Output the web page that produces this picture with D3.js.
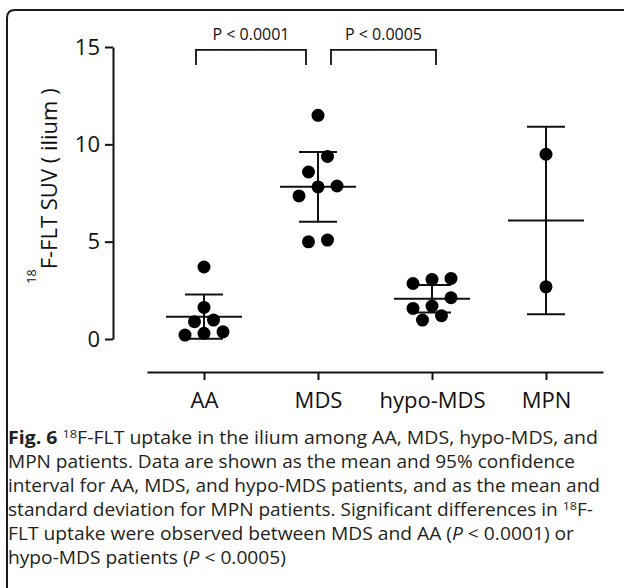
<!DOCTYPE html>
<html>
<head>
<meta charset="utf-8">
<script src="https://cdn.jsdelivr.net/npm/d3@7"></script>
<style>
body { margin: 0; background: #fff; }
svg { display: block; font-family: "Open Sans", sans-serif; }
</style>
</head>
<body>
<svg id="main-svg" width="624" height="588"></svg>
<script>
(function() {

    // groups on the x axis
    var categories = ["AA", "MDS", "hypo-MDS", "MPN"];

    // SUV values
    var aaValues = [3.7, 1.62, 0.97, 0.89, 0.37, 0.29, 0.2];
    var mdsValues = [11.49, 9.38, 8.58, 7.86, 7.81, 7.35, 5.08, 4.99];
    var hypoValues = [3.11, 3.06, 2.85, 2.12, 1.69, 1.57, 1.2, 0.97];
    var mpnValues = [9.49, 2.68];

    // error bar: 95% CI or SD
    var barTypes = ["ci95", "ci95", "ci95", "sd"];

    var yTicks = [0, 5, 10, 15];

    // significance brackets
    var pairs = [["AA", "MDS"], ["MDS", "hypo-MDS"]];
    var pLabels = ["P < 0.0001", "P < 0.0005"];
    var bracketTop = 14.85;

    // caption, one array per printed line
    var captionLines = [
        [{t: "Fig. 6 ", b: true}, {t: "18", sup: true}, {t: "F-FLT uptake in the ilium among AA, MDS, hypo-MDS, and"}],
        [{t: "MPN patients. Data are shown as the mean and 95% confidence"}],
        [{t: "interval for AA, MDS, and hypo-MDS patients, and as the mean and"}],
        [{t: "standard deviation for MPN patients. Significant differences in "}, {t: "18", sup: true}, {t: "F-"}],
        [{t: "FLT uptake were observed between MDS and AA ("}, {t: "P", i: true}, {t: " < 0.0001) or"}],
        [{t: "hypo-MDS patients ("}, {t: "P", i: true}, {t: " < 0.0005)"}]
    ];

    // two-sided t critical values by degrees of freedom
    var tCrit = {1: 12.706, 6: 2.447, 7: 2.365};

    var groups = [aaValues, mdsValues, hypoValues, mpnValues];

    var svg = d3.select("#main-svg");
    var ink = "#111";

    // frame
    svg.append("path")
    .attr("d", "M7,588V18Q7,10 15,10H624")
    .attr("fill", "none")
    .attr("stroke", "#1a1a1a")
    .attr("stroke-width", 2);

    var y = d3.scaleLinear().domain([0, 15]).range([339, 47]);
    var x = d3.scalePoint().domain(categories).range([147, 603]).padding(0.5);

    var yAxis = svg.append("g")
    .attr("transform", "translate(113,0)")
    .call(d3.axisLeft(y).tickValues(yTicks).tickSize(8).tickSizeOuter(0).tickPadding(5));

    var xAxis = svg.append("g")
    .attr("transform", "translate(0,372)")
    .call(d3.axisBottom(x).tickSize(8).tickSizeOuter(0));

    [yAxis, xAxis].forEach(function(g) {
        g.attr("font-family", null).attr("font-size", 22);
        g.selectAll("path, line").attr("stroke", ink).attr("stroke-width", 2);
        g.selectAll("text").attr("fill", ink);
    });
    xAxis.selectAll(".tick text").attr("y", 36).attr("dy", 0);

    // y title
    var yTitle = svg.append("text")
    .attr("transform", "translate(57,186) rotate(-90)")
    .attr("text-anchor", "middle")
    .attr("fill", ink);
    yTitle.append("tspan").attr("font-size", 12.5).attr("dy", -21).text("18");
    yTitle.append("tspan").attr("font-size", 22).attr("dy", 21).text("F-FLT SUV ( ilium )");

    // mean +/- interval
    var stats = function(vals, type) {
        var m = d3.mean(vals);
        var sd = d3.deviation(vals);
        var h = type == "sd" ? sd : tCrit[vals.length - 1] * sd / Math.sqrt(vals.length);
        return {mean: m, lo: m - h, hi: m + h};
    };

    // prism-like rows of dots, built from the bottom up
    var dotR = 6.5, rowH = 11.5, step = 19, minDist = 13;
    var swarm = function(vals) {
        var rows = [], row = null;
        vals.slice().sort(d3.ascending).forEach(function(v) {
            if (row && row.base - y(v) < rowH) {
                row.items.push(v);
            } else {
                row = {base: y(v), items: [v]};
                rows.push(row);
            }
        });
        // two lone dots close together sit side by side
        for (var i = 0; i < rows.length - 1; i++) {
            if (rows[i].items.length == 1 && rows[i + 1].items.length == 1 &&
                rows[i].base - rows[i + 1].base < 2.5 * dotR) {
                rows[i].items = rows[i].items.concat(rows[i + 1].items);
                rows.splice(i + 1, 1);
            }
        }
        var placed = [];
        rows.forEach(function(r) {
            var n = r.items.length;
            for (var k = 1; k <= 4; k += 0.5) {
                var cand = r.items.map(function(v, j) {
                    return {v: v, dx: (j - (n - 1) / 2) * step * k, py: y(v)};
                });
                var ok = cand.every(function(c) {
                    return placed.every(function(p) {
                        return Math.hypot(c.dx - p.dx, c.py - p.py) >= minDist;
                    });
                });
                if (ok || k == 4) {
                    placed = placed.concat(cand);
                    break;
                }
            }
        });
        return placed;
    };

    var groupNodes = svg.selectAll(".group")
    .data(groups)
    .enter()
    .append("g")
    .classed("group", true)
    .attr("transform", function(vals, i) {
        return "translate(" + x(categories[i]) + ",0)";
    });

    groupNodes.each(function(vals, i) {
        var g = d3.select(this);
        var s = stats(vals, barTypes[i]);
        var bars = [
            [-38, y(s.mean), 38, y(s.mean)],
            [-19, y(s.hi), 19, y(s.hi)],
            [-19, y(s.lo), 19, y(s.lo)],
            [0, y(s.hi), 0, y(s.lo)]
        ];
        g.selectAll("line")
        .data(bars)
        .enter()
        .append("line")
        .attr("x1", function(d) { return d[0]; })
        .attr("y1", function(d) { return d[1]; })
        .attr("x2", function(d) { return d[2]; })
        .attr("y2", function(d) { return d[3]; })
        .attr("stroke", ink)
        .attr("stroke-width", 2);

        g.selectAll("circle")
        .data(swarm(vals))
        .enter()
        .append("circle")
        .attr("cx", function(d) { return d.dx; })
        .attr("cy", function(d) { return d.py; })
        .attr("r", dotR)
        .attr("fill", "#000");
    });

    // brackets
    var bracketInset = [[-8, -12], [13, 4]];
    var by = y(bracketTop);
    pairs.forEach(function(pr, i) {
        var x1 = x(pr[0]) + bracketInset[i][0];
        var x2 = x(pr[1]) + bracketInset[i][1];
        svg.append("path")
        .attr("d", "M" + x1 + "," + (by + 15) + "V" + by + "H" + x2 + "V" + (by + 15))
        .attr("fill", "none")
        .attr("stroke", ink)
        .attr("stroke-width", 1.8);
        svg.append("text")
        .attr("x", (x1 + x2) / 2)
        .attr("y", by - 10)
        .attr("text-anchor", "middle")
        .attr("font-size", 16)
        .attr("fill", ink)
        .text(pLabels[i]);
    });

    // caption
    var captionRight = [598, 575, 600, 593, 574];
    var fit = [];
    captionLines.forEach(function(segs, i) {
        var t = svg.append("text")
        .attr("x", 8)
        .attr("y", 444 + i * 24)
        .attr("font-size", 17.5)
        .attr("fill", "#231f20");
        var shift = 0;
        segs.forEach(function(s) {
            var ts = t.append("tspan").text(s.t);
            if (s.b) ts.attr("font-weight", "bold");
            if (s.i) ts.attr("font-style", "italic");
            if (s.sup) {
                ts.attr("font-size", 11.5).attr("dy", -6.5);
                shift = 6.5;
            } else if (shift) {
                ts.attr("dy", shift);
                shift = 0;
            }
        });
        var natural = t.node().getComputedTextLength();
        if (i < captionRight.length) {
            var target = captionRight[i] - 8;
            fit.push(target / natural);
            t.attr("textLength", target).attr("lengthAdjust", "spacingAndGlyphs");
        } else {
            t.attr("textLength", natural * d3.mean(fit)).attr("lengthAdjust", "spacingAndGlyphs");
        }
    });
})();
</script>
</body>
</html>
